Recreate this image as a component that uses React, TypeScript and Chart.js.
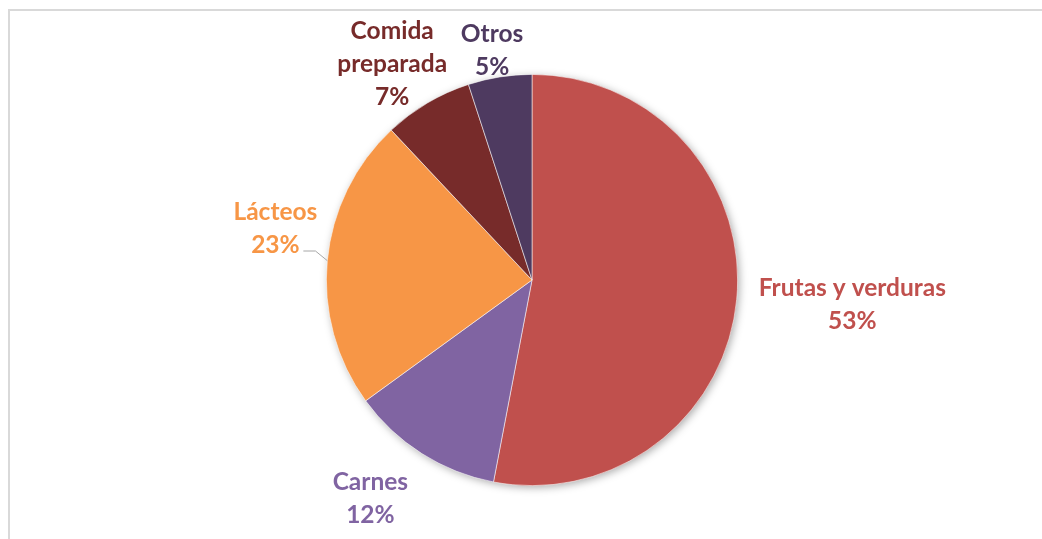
import React, { useEffect, useRef } from "react";
import { Chart, registerables } from "chart.js";

Chart.register(...registerables);

const categories = ["Frutas y verduras", "Carnes", "Lácteos", "Comida preparada", "Otros"];
const percentages = [53, 12, 23, 7, 5];
const labelLines = [["Frutas y verduras"], ["Carnes"], ["Lácteos"], ["Comida", "preparada"], ["Otros"]];
const colors = ["#C0504D", "#8064A2", "#F79646", "#772B2A", "#4E3A60"];
// label block centers relative to pie center, in units of radius
const labelOffsets = [
  [1.558, 0.117],
  [-0.786, 1.058],
  [-1.248, -0.252],
  [-0.68, -1.053],
  [-0.194, -1.121],
];

const FONT_SIZE = 24.5;
const LINE_GAP = 33;
const FONT_FAMILY = "Lato, 'Open Sans', sans-serif";

const decorPlugin = {
  id: "decor",
  beforeDraw(chart: any) {
    const ctx = chart.ctx;
    ctx.save();
    ctx.strokeStyle = "#D9D9D9";
    ctx.lineWidth = 2;
    ctx.strokeRect(9, 10, 1200, 700);
    ctx.restore();
  },
  beforeDatasetsDraw(chart: any) {
    const meta = chart.getDatasetMeta(0);
    const arc = meta.data[0];
    if (!arc) return;
    const { x, y, outerRadius } = arc.getProps(["x", "y", "outerRadius"], true);
    const ctx = chart.ctx;
    ctx.save();
    ctx.shadowColor = "rgba(0,0,0,0.35)";
    ctx.shadowBlur = 8;
    ctx.shadowOffsetX = 2;
    ctx.shadowOffsetY = 2;
    ctx.fillStyle = "#ffffff";
    ctx.beginPath();
    ctx.arc(x, y, outerRadius - 0.5, 0, Math.PI * 2);
    ctx.fill();
    ctx.restore();
  },
  afterDatasetsDraw(chart: any) {
    const meta = chart.getDatasetMeta(0);
    const ctx = chart.ctx;
    ctx.save();
    ctx.font = `bold ${FONT_SIZE}px ${FONT_FAMILY}`;
    ctx.textAlign = "center";
    ctx.textBaseline = "alphabetic";
    meta.data.forEach((el: any, i: number) => {
      const { x, y, outerRadius, startAngle, endAngle } = el.getProps(
        ["x", "y", "outerRadius", "startAngle", "endAngle"],
        true
      );
      const R = outerRadius;
      const lines = [...labelLines[i], `${percentages[i]}%`];
      const cx = x + labelOffsets[i][0] * R;
      const cy = y + labelOffsets[i][1] * R;
      const firstMid = cy - ((lines.length - 1) * LINE_GAP) / 2;
      ctx.fillStyle = colors[i];
      lines.forEach((line, j) => {
        const capMid = firstMid + j * LINE_GAP;
        ctx.fillText(line, cx, capMid + FONT_SIZE * 0.358);
      });
      if (categories[i] === "Lácteos") {
        const mid = (startAngle + endAngle) / 2;
        const ex = x + Math.cos(mid) * R;
        const ey = y + Math.sin(mid) * R;
        ctx.strokeStyle = "#A6A6A6";
        ctx.lineWidth = 1;
        ctx.beginPath();
        ctx.moveTo(x - 1.112 * R, y - 0.141 * R);
        ctx.lineTo(x - 1.053 * R, y - 0.141 * R);
        ctx.lineTo(ex, ey);
        ctx.stroke();
      }
    });
    ctx.restore();
  },
};

export default function App() {
  const canvasRef = useRef<HTMLCanvasElement | null>(null);

  useEffect(() => {
    if (!canvasRef.current) return;
    const chart = new Chart(canvasRef.current, {
      type: "pie",
      data: {
        labels: categories,
        datasets: [
          {
            data: percentages,
            backgroundColor: colors,
            borderColor: "rgba(255,255,255,0.7)",
            borderWidth: 0.75,
          },
        ],
      },
      options: {
        responsive: false,
        animation: false,
        layout: { padding: { left: 326, right: 304, top: 74, bottom: 53 } },
        plugins: {
          legend: { display: false },
          tooltip: { enabled: false },
        },
      },
      plugins: [decorPlugin],
    });
    return () => chart.destroy();
  }, []);

  return (
    <div style={{ position: "fixed", left: 0, top: 0, width: 1042, height: 539, background: "#fff" }}>
      <canvas ref={canvasRef} width={1042} height={539} style={{ display: "block" }} />
    </div>
  );
}
